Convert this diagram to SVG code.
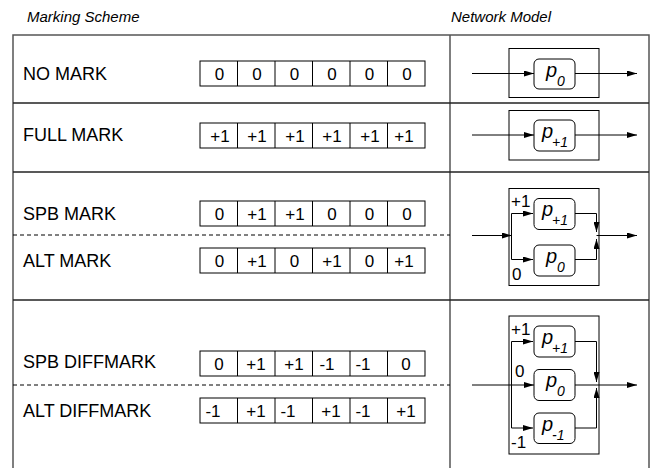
<svg xmlns="http://www.w3.org/2000/svg" width="656" height="468" viewBox="0 0 656 468">
<style>
text{font-family:"Liberation Sans",Arial,sans-serif;fill:#000}
.hdr{font-size:15px;font-style:italic}
.lbl{font-size:18px}
.num{font-size:17px;text-anchor:middle}
.cell{fill:#fff;stroke:#000;stroke-width:1}
.frame{fill:none;stroke:#555;stroke-width:1.5}
.row{stroke:#222;stroke-width:1.3}
.dash{stroke:#000;stroke-width:1;stroke-dasharray:4,3}
.box{fill:none;stroke:#000;stroke-width:1}
.ibox{fill:#fff;stroke:#000;stroke-width:1}
.w{fill:none;stroke:#000;stroke-width:1}
.p{font-size:20px;font-style:italic}
.sub{font-size:14px;font-style:italic}
.bl{font-size:17px}
</style>
<defs>
<marker id="ah" viewBox="0 0 10 6" refX="10" refY="3" markerWidth="10" markerHeight="6" markerUnits="userSpaceOnUse" orient="auto"><path d="M0,0 L10,3 L0,6 z" fill="#000"/></marker>
</defs>
<text class="hdr" x="27" y="22">Marking Scheme</text>
<text class="hdr" x="451" y="22">Network Model</text>
<g id="table">
<path class="frame" d="M13,468 V35 H649 V468 M450,35 V468"/>
<line class="row" x1="13" y1="103" x2="649" y2="103"/>
<line class="row" x1="13" y1="172" x2="649" y2="172"/>
<line class="row" x1="13" y1="300" x2="649" y2="300"/>
<line class="dash" x1="13" y1="235" x2="450" y2="235"/>
<line class="dash" x1="13" y1="385" x2="450" y2="385"/>
</g>
<g id="no-mark">
<text class="lbl" x="23" y="80">NO MARK</text>
<rect class="cell" x="200" y="61" width="225" height="25"/>
<path class="w" d="M237.5,61v25M275,61v25M312.5,61v25M350,61v25M387.5,61v25"/>
<text class="num" x="219.5" y="79.5">0</text><text class="num" x="257" y="79.5">0</text><text class="num" x="294.5" y="79.5">0</text><text class="num" x="332" y="79.5">0</text><text class="num" x="369.5" y="79.5">0</text><text class="num" x="407" y="79.5">0</text>
</g>
<g id="full-mark">
<text class="lbl" x="23" y="141">FULL MARK</text>
<rect class="cell" x="200" y="123" width="225" height="25"/>
<path class="w" d="M237.5,123v25M275,123v25M312.5,123v25M350,123v25M387.5,123v25"/>
<text class="num" x="220" y="141.5">+1</text><text class="num" x="257" y="141.5">+1</text><text class="num" x="295" y="141.5">+1</text><text class="num" x="332" y="141.5">+1</text><text class="num" x="370" y="141.5">+1</text><text class="num" x="404" y="141.5">+1</text>
</g>
<g id="spb-mark">
<text class="lbl" x="23" y="219.5">SPB MARK</text>
<rect class="cell" x="200" y="201" width="225" height="25"/>
<path class="w" d="M237.5,201v25M275,201v25M312.5,201v25M350,201v25M387.5,201v25"/>
<text class="num" x="219.5" y="219.5">0</text><text class="num" x="257" y="219.5">+1</text><text class="num" x="295" y="219.5">+1</text><text class="num" x="332" y="219.5">0</text><text class="num" x="369.5" y="219.5">0</text><text class="num" x="407" y="219.5">0</text>
</g>
<g id="alt-mark">
<text class="lbl" x="23" y="266.5">ALT MARK</text>
<rect class="cell" x="200" y="248" width="225" height="25"/>
<path class="w" d="M237.5,248v25M275,248v25M312.5,248v25M350,248v25M387.5,248v25"/>
<text class="num" x="219.5" y="266.5">0</text><text class="num" x="257" y="266.5">+1</text><text class="num" x="294.5" y="266.5">0</text><text class="num" x="332" y="266.5">+1</text><text class="num" x="369.5" y="266.5">0</text><text class="num" x="404" y="266.5">+1</text>
</g>
<g id="spb-diffmark">
<text class="lbl" x="23" y="367.5">SPB DIFFMARK</text>
<rect class="cell" x="200" y="351" width="225" height="25"/>
<path class="w" d="M237.5,351v25M275,351v25M312.5,351v25M350,351v25M387.5,351v25"/>
<text class="num" x="219" y="369.5">0</text><text class="num" x="256" y="369.5">+1</text><text class="num" x="294" y="369.5">+1</text><text class="num" x="327" y="369.5">-1</text><text class="num" x="363" y="369.5">-1</text><text class="num" x="406" y="369.5">0</text>
</g>
<g id="alt-diffmark">
<text class="lbl" x="23" y="416.5">ALT DIFFMARK</text>
<rect class="cell" x="200" y="398" width="225" height="25"/>
<path class="w" d="M237.5,398v25M275,398v25M312.5,398v25M350,398v25M387.5,398v25"/>
<text class="num" x="213" y="416.5">-1</text><text class="num" x="256" y="416.5">+1</text><text class="num" x="288" y="416.5">-1</text><text class="num" x="331" y="416.5">+1</text><text class="num" x="363" y="416.5">-1</text><text class="num" x="406" y="416.5">+1</text>
</g>
<g id="model-no-mark">
<rect class="box" x="509" y="48.5" width="90" height="49"/>
<rect class="ibox" x="534" y="59" width="41" height="30" rx="5"/>
<text class="p" x="546" y="77">p</text><text class="sub" x="557" y="86">0</text>
</g>
<g id="model-full-mark">
<rect class="box" x="509" y="110.5" width="90" height="49.5"/>
<rect class="ibox" x="534" y="120" width="41" height="31" rx="5"/>
<text class="p" x="542" y="138">p</text><text class="sub" x="552" y="147">+1</text>
</g>
<g id="model-spb-alt">
<rect class="box" x="509" y="188.5" width="90" height="97"/>
<rect class="ibox" x="534" y="198.5" width="41" height="31" rx="5"/>
<text class="p" x="542" y="216">p</text><text class="sub" x="552" y="225">+1</text>
<rect class="ibox" x="534" y="245" width="41" height="31" rx="5"/>
<text class="p" x="546" y="263">p</text><text class="sub" x="557" y="272">0</text>
<text class="bl" x="511" y="207">+1</text>
<text class="bl" x="512" y="280">0</text>
</g>
<g id="model-diff">
<rect class="box" x="509" y="316" width="90" height="138"/>
<rect class="ibox" x="534" y="326" width="41" height="31" rx="5"/>
<text class="p" x="542" y="344">p</text><text class="sub" x="552" y="353">+1</text>
<rect class="ibox" x="534" y="369.5" width="41" height="31" rx="5"/>
<text class="p" x="546" y="387">p</text><text class="sub" x="557" y="396">0</text>
<rect class="ibox" x="534" y="413" width="41" height="30.5" rx="5"/>
<text class="p" x="542" y="431">p</text><text class="sub" x="552" y="440">-1</text>
<text class="bl" x="511" y="335">+1</text>
<text class="bl" x="515" y="377">0</text>
<text class="bl" x="511" y="448">-1</text>
</g>
<g id="connectors">
<line class="w" x1="472" y1="73.5" x2="534" y2="73.5" marker-end="url(#ah)"/>
<line class="w" x1="575" y1="73.5" x2="637" y2="73.5" marker-end="url(#ah)"/>
<line class="w" x1="472" y1="135" x2="534" y2="135" marker-end="url(#ah)"/>
<line class="w" x1="575" y1="135" x2="637" y2="135" marker-end="url(#ah)"/>
<line class="w" x1="472" y1="235.5" x2="512" y2="235.5" marker-end="url(#ah)"/>
<path class="w" d="M511.5,235.5 V213.5 H533" marker-end="url(#ah)"/>
<path class="w" d="M511.5,235.5 V259.5 H533" marker-end="url(#ah)"/>
<path class="w" d="M575,213.5 H596.5 V232" marker-end="url(#ah)"/>
<path class="w" d="M575,259.5 H596.5 V239" marker-end="url(#ah)"/>
<line class="w" x1="596.5" y1="235.5" x2="637" y2="235.5" marker-end="url(#ah)"/>
<line class="w" x1="472" y1="385" x2="534" y2="385" marker-end="url(#ah)"/>
<path class="w" d="M511.5,385 V341.5 H533" marker-end="url(#ah)"/>
<path class="w" d="M511.5,385 V428 H533" marker-end="url(#ah)"/>
<path class="w" d="M575,341.5 H596.5 V382" marker-end="url(#ah)"/>
<path class="w" d="M575,428 H596.5 V388" marker-end="url(#ah)"/>
<line class="w" x1="575" y1="385" x2="637" y2="385" marker-end="url(#ah)"/>
</g>
</svg>
